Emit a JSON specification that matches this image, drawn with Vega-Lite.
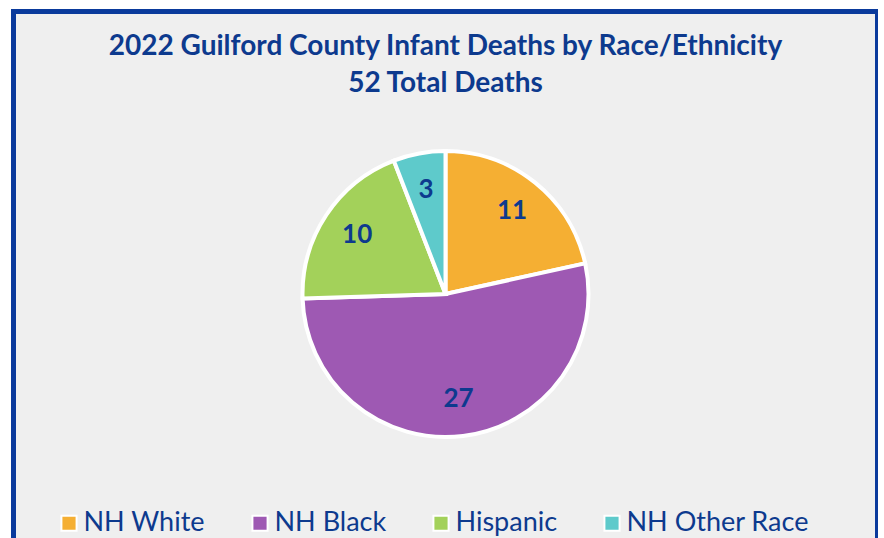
{
  "$schema": "https://vega.github.io/schema/vega-lite/v6.json",
  "autosize": "none",
  "width": 864,
  "height": 565,
  "padding": {"left": 13.5, "top": 11.5, "right": 0, "bottom": 0},
  "background": "white",
  "view": {"fill": "#efefef", "stroke": "#0a3a9c", "strokeWidth": 5},
  "config": {
    "font": "Lato"
  },
  "title": {
    "text": ["2022 Guilford County Infant Deaths by Race/Ethnicity", "52 Total Deaths"],
    "font": "Lato",
    "fontSize": 28,
    "fontWeight": "bold",
    "color": "#0d3a8e",
    "anchor": "middle",
    "offset": -86,
    "lineHeight": 37
  },
  "data": {
    "values": [
      {"group": "NH White", "deaths": 11, "order": 1},
      {"group": "NH Black", "deaths": 27, "order": 2},
      {"group": "Hispanic", "deaths": 10, "order": 3},
      {"group": "NH Other Race", "deaths": 3, "order": 4}
    ]
  },
  "encoding": {
    "theta": {"field": "deaths", "type": "quantitative", "stack": true},
    "order": {"field": "order", "type": "quantitative"},
    "color": {
      "field": "group",
      "type": "nominal",
      "scale": {
        "domain": ["NH White", "NH Black", "Hispanic", "NH Other Race"],
        "range": ["#f5af33", "#9e59b3", "#a3d15a", "#5ecacb"]
      },
      "legend": {
        "title": null,
        "orient": "none",
        "direction": "horizontal",
        "legendX": 42,
        "legendY": 498,
        "symbolType": "square",
        "symbolSize": 230,
        "symbolStrokeColor": "white",
        "symbolStrokeWidth": 2,
        "symbolOpacity": 1,
        "labelFontSize": 27,
        "labelColor": "#0d3a8e",
        "labelFont": "Lato",
        "labelLimit": 400,
        "columnPadding": 41,
        "labelOffset": 1
      }
    }
  },
  "layer": [
    {"mark": {"type": "arc", "outerRadius": 143, "stroke": "white", "strokeWidth": 4}},
    {
      "mark": {"type": "text", "radius": 106, "fontSize": 26, "fontWeight": "bold", "fill": "#0d3a8e", "font": "Lato"},
      "encoding": {
        "text": {"field": "deaths", "type": "quantitative"},
        "color": {"value": "#0d3a8e"}
      }
    }
  ]
}
